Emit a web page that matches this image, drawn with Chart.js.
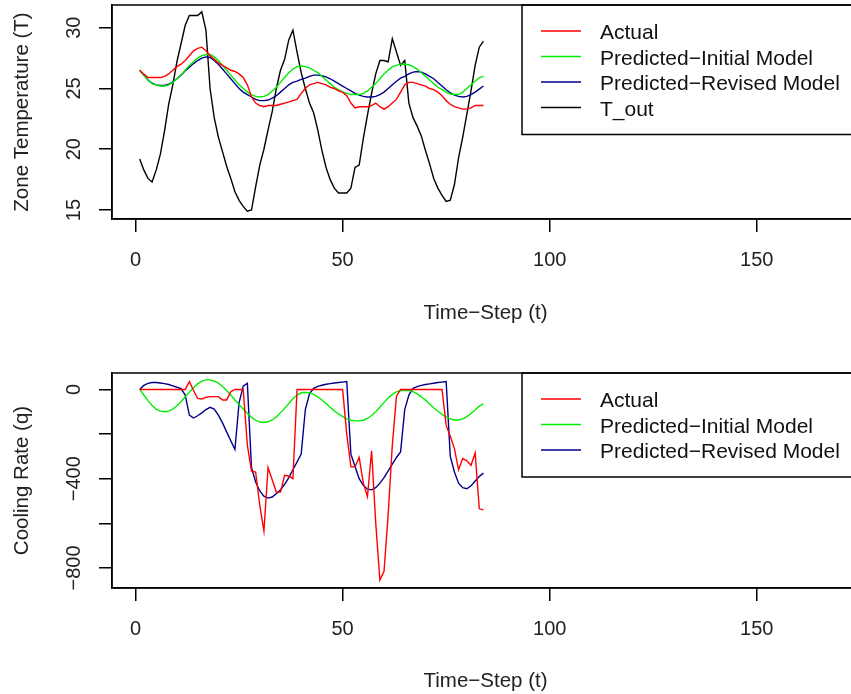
<!DOCTYPE html>
<html>
<head>
<meta charset="utf-8">
<script src="https://cdn.jsdelivr.net/npm/chart.js@4/dist/chart.umd.min.js"></script>
<style>
  html, body { margin:0; padding:0; background:#fff; overflow:hidden; width:851px; height:694px; }
  canvas { position:absolute; left:0; }
  #topChart { top:0; }
  #bottomChart { top:347px; }
</style>
</head>
<body>
<canvas id="topChart" width="880" height="347"></canvas>
<canvas id="bottomChart" width="880" height="347"></canvas>
<script>
// time steps 1..84
const steps = Array.from({length: 84}, (_, i) => i + 1);

// top panel: zone temperature
const tempActual = [26.5,26.2,25.9,25.9,25.9,25.9,26.0,26.2,26.5,26.8,27.0,27.3,27.7,28.1,28.3,28.4,28.1,27.7,27.4,27.1,
  26.9,26.7,26.5,26.4,26.2,25.9,25.3,24.3,23.8,23.6,23.5,23.6,23.6,23.6,23.7,23.8,23.9,24.0,24.1,24.6,
  25.0,25.3,25.4,25.5,25.4,25.3,25.1,25.0,24.8,24.7,24.4,23.8,23.4,23.5,23.5,23.5,23.6,23.8,23.5,23.3,
  23.5,23.8,24.1,24.7,25.3,25.5,25.5,25.4,25.3,25.2,25.0,24.9,24.7,24.4,24.0,23.7,23.5,23.4,23.3,23.3,
  23.4,23.6,23.6,23.6];
const tempInitial = [26.5,26.1,25.7,25.4,25.3,25.2,25.2,25.3,25.5,25.8,26.1,26.5,26.9,27.2,27.5,27.7,27.8,27.8,27.6,27.3,
  26.9,26.5,26.1,25.7,25.3,25.0,24.7,24.5,24.35,24.3,24.35,24.5,24.8,25.1,25.5,25.9,26.3,26.6,26.8,26.85,
  26.8,26.7,26.5,26.3,26.0,25.7,25.4,25.1,24.9,24.7,24.6,24.5,24.5,24.5,24.6,24.8,25.1,25.4,25.8,26.2,
  26.5,26.8,26.9,27.0,27.0,26.95,26.8,26.6,26.3,26.0,25.7,25.4,25.1,24.9,24.7,24.55,24.5,24.5,24.7,25.0,
  25.3,25.6,25.9,26.0];
const tempRevised = [26.5,26.1,25.7,25.45,25.3,25.25,25.25,25.35,25.55,25.8,26.1,26.45,26.75,27.05,27.3,27.5,27.6,27.55,27.3,27.0,
  26.6,26.2,25.8,25.4,25.0,24.7,24.5,24.3,24.1,24.0,24.0,24.05,24.2,24.4,24.7,25.0,25.3,25.5,25.6,25.75,
  25.85,26.0,26.1,26.1,26.05,25.95,25.8,25.6,25.4,25.2,25.0,24.8,24.6,24.45,24.35,24.3,24.3,24.35,24.5,24.7,
  25.0,25.3,25.6,25.85,26.0,26.2,26.35,26.4,26.35,26.2,26.0,25.8,25.5,25.2,24.9,24.65,24.45,24.35,24.3,24.35,
  24.5,24.7,24.95,25.2];
const tempOut = [19.2,18.3,17.6,17.3,18.3,19.6,21.5,23.7,25.3,27.2,28.7,30.2,31.0,31.0,31.0,31.3,29.8,25.0,22.6,21.0,
  19.8,18.6,17.6,16.5,15.8,15.3,14.9,15.0,16.9,18.7,20.0,21.6,23.1,25.0,26.5,27.4,29.0,29.8,28.0,26.3,
  25.0,23.8,23.0,21.6,19.9,18.5,17.5,16.8,16.4,16.4,16.4,16.8,18.5,18.7,20.9,22.8,24.6,26.2,27.3,27.3,
  27.2,29.1,28.0,26.9,27.3,23.8,22.6,21.9,21.1,19.9,18.8,17.6,16.8,16.2,15.7,15.8,17.1,19.3,21.0,22.9,
  24.8,26.9,28.4,28.9];

// bottom panel: cooling rate
const coolActual = [0,0,0,0,0,0,0,0,0,0,0,0,35,-5,-40,-43,-35,-32,-32,-32,
  -47,-47,-10,0,0,0,-250,-365,-370,-520,-635,-350,-405,-460,-460,-385,-388,-400,0,0,
  0,0,0,0,0,0,0,0,0,0,-200,-347,-347,-305,-420,-480,-275,-600,-854,-815,
  -560,-250,-30,0,0,0,0,0,0,0,0,0,0,0,-160,-210,-265,-360,-310,-320,
  -340,-285,-535,-540];
const coolInitial = [0,-25,-50,-72,-88,-97,-100,-97,-88,-73,-55,-33,-12,8,25,37,43,43,38,28,
  13,-5,-25,-47,-68,-88,-107,-125,-138,-146,-148,-145,-137,-123,-105,-85,-63,-42,-25,-15,
  -13,-15,-22,-33,-47,-63,-80,-96,-110,-122,-132,-138,-141,-141,-138,-130,-117,-100,-80,-58,
  -38,-22,-11,-5,-4,-5,-10,-20,-33,-48,-65,-82,-98,-112,-124,-132,-137,-137,-132,-122,
  -108,-92,-75,-65];
const coolRevised = [0,18,27,31,31,29,26,22,16,10,4,-25,-115,-128,-118,-105,-90,-80,-88,-115,
  -150,-190,-230,-269,-60,15,28,-350,-415,-455,-478,-487,-482,-467,-450,-425,-395,-360,-325,-290,
  -90,-20,5,14,19,23,26,29,31,33,35,-290,-345,-400,-430,-447,-450,-440,-420,-395,
  -365,-335,-305,-280,-90,-25,5,13,18,22,25,28,31,33,35,-300,-370,-420,-440,-445,
  -432,-410,-390,-375];

// axis ticks
const xTicks = [0, 50, 100, 150];
const yTicksTop = [15, 20, 25, 30];
const yTicksBottom = [0, -200, -400, -600, -800];
const yLabelsBottom = [0, -400, -800];

const FONT = '"Liberation Sans", Arial, sans-serif';
const RED = '#ff0000', GREEN = '#00ee00', BLUE = '#00008b', BLACK = '#000000';

const pts = arr => arr.map((v, i) => ({x: steps[i], y: v}));

// box, rotated y labels and R-like legend
const rPlot = {
  id: 'rPlot',
  afterDraw(chart, args, opts) {
    const ctx = chart.ctx, a = chart.chartArea;
    ctx.save();
    ctx.strokeStyle = '#000';
    ctx.lineWidth = 1.5;
    ctx.strokeRect(a.left, a.top, a.right - a.left, a.bottom - a.top);

    // y tick labels, vertical like R
    const ys = chart.scales.y;
    ctx.fillStyle = '#222';
    ctx.font = '20px ' + FONT;
    ctx.textAlign = 'center';
    ctx.textBaseline = 'alphabetic';
    opts.yLabels.forEach(v => {
      const py = ys.getPixelForValue(v);
      ctx.save();
      ctx.translate(80, py);
      ctx.rotate(-Math.PI / 2);
      ctx.fillText(String(v).replace('-', '\u2212'), 0, 0);
      ctx.restore();
    });

    // legend
    const lx = a.left + opts.legendLeft, ly = a.top;
    const rowH = 25.5, first = 26;
    const n = chart.data.datasets.length;
    const h = first + (n - 1) * rowH + 27;
    ctx.strokeRect(lx, ly, a.right - lx, h);
    ctx.font = '21px ' + FONT;
    ctx.textAlign = 'left';
    chart.data.datasets.forEach((ds, i) => {
      const y = ly + first + i * rowH;
      ctx.strokeStyle = ds.borderColor;
      ctx.lineWidth = 1.5;
      ctx.beginPath();
      ctx.moveTo(lx + 19, y);
      ctx.lineTo(lx + 59, y);
      ctx.stroke();
      ctx.fillStyle = '#111';
      ctx.fillText(ds.label, lx + 78, y + 8);
    });
    ctx.restore();
  }
};

function makeChart(id, datasets, cfg) {
  return new Chart(document.getElementById(id), {
    type: 'line',
    data: { datasets },
    plugins: [rPlot],
    options: {
      responsive: false,
      animation: false,
      devicePixelRatio: 1,
      layout: { padding: { left: 0, top: cfg.top, right: 21, bottom: 0 } },
      elements: { point: { radius: 0 }, line: { borderWidth: 1.4, tension: 0 } },
      plugins: {
        legend: { display: false },
        tooltip: { enabled: false },
        rPlot: { yLabels: cfg.yLabels, legendLeft: 410 }
      },
      scales: {
        x: {
          type: 'linear',
          min: -5.68, max: 174.68,
          afterBuildTicks: s => { s.ticks = xTicks.map(v => ({value: v})); },
          afterFit: s => { s.height = cfg.xHeight; },
          grid: { drawOnChartArea: false, drawTicks: true, tickLength: 13, color: '#000', lineWidth: 1.5 },
          border: { display: true, color: '#000', width: 1.5 },
          ticks: { color: '#222', font: { family: FONT, size: 20 }, padding: 16, maxRotation: 0 },
          title: { display: true, text: 'Time\u2212Step (t)', color: '#222',
                   font: { family: FONT, size: 20.5 }, padding: { top: 0, bottom: cfg.xTitlePad } }
        },
        y: {
          min: cfg.ymin, max: cfg.ymax,
          afterBuildTicks: s => { s.ticks = cfg.yTicks.map(v => ({value: v})); },
          afterFit: s => { s.width = 112; },
          grid: { drawOnChartArea: false, drawTicks: true, tickLength: 13, color: '#000', lineWidth: 1.5 },
          border: { display: true, color: '#000', width: 1.5 },
          ticks: { display: false },
          title: { display: true, text: cfg.yTitle, color: '#222',
                   font: { family: FONT, size: 20.5 }, padding: { top: 10, bottom: 0 } }
        }
      }
    }
  });
}

makeChart('topChart', [
  { label: 'Actual', data: pts(tempActual), borderColor: RED },
  { label: 'Predicted\u2212Initial Model', data: pts(tempInitial), borderColor: GREEN },
  { label: 'Predicted\u2212Revised Model', data: pts(tempRevised), borderColor: BLUE },
  { label: 'T_out', data: pts(tempOut), borderColor: BLACK }
], { top: 5, xHeight: 128, xTitlePad: 21, ymin: 14.26, ymax: 31.87, yTicks: yTicksTop, yLabels: yTicksTop,
     yTitle: 'Zone Temperature (T)' });

makeChart('bottomChart', [
  { label: 'Actual', data: pts(coolActual), borderColor: RED },
  { label: 'Predicted\u2212Initial Model', data: pts(coolInitial), borderColor: GREEN },
  { label: 'Predicted\u2212Revised Model', data: pts(coolRevised), borderColor: BLUE }
], { top: 26, xHeight: 106, xTitlePad: 0, ymin: -889.9, ymax: 73.7, yTicks: yTicksBottom, yLabels: yLabelsBottom,
     yTitle: 'Cooling Rate (q)' });
</script>
</body>
</html>
